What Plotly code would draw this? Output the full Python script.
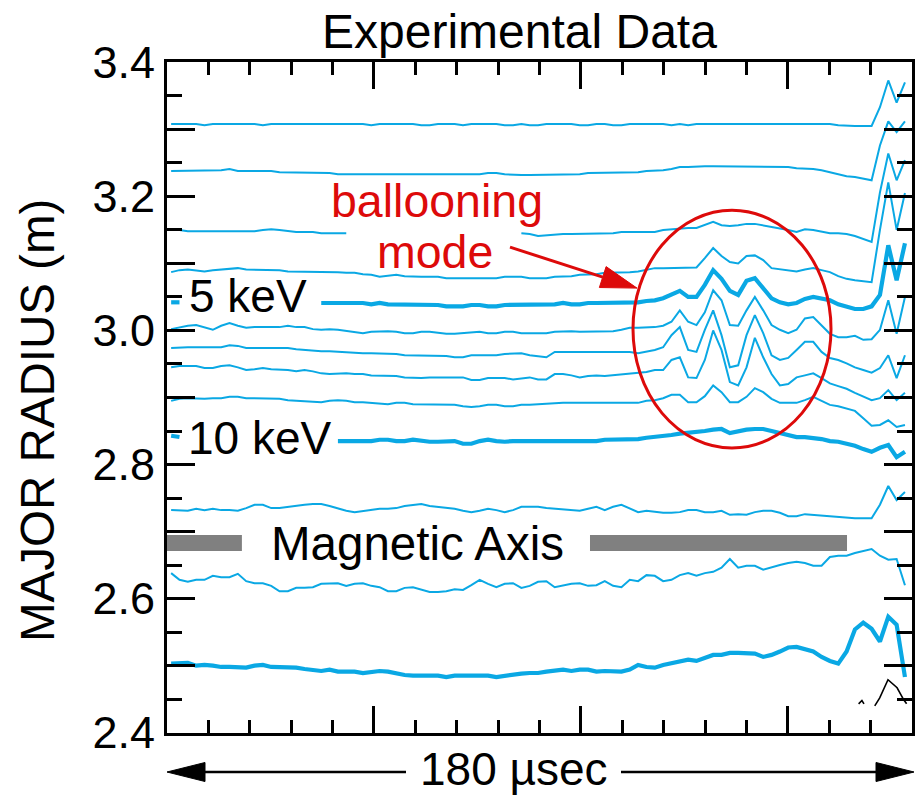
import numpy as np
import plotly.graph_objects as go

# ---------------- data ----------------
# time samples (axis units: 10 µs per unit, full axis = 180 µs)
T_START, T_END, N_T = 0.1, 17.83, 89
time = [float(v) for v in np.linspace(T_START, T_END, N_T)]

# major-radius traces of the 13 channels (m); None = gap in the trace
R1 = [3.308, 3.308, 3.308, 3.308, 3.306, 3.308, 3.308, 3.308, 3.308, 3.308,
      3.308, 3.306, 3.308, 3.308, 3.308, 3.308, 3.308, 3.308, 3.308, 3.308,
      3.308, 3.308, 3.308, 3.308, 3.306, 3.308, 3.308, 3.308, 3.308, 3.308,
      3.306, 3.306, 3.308, 3.308, 3.308, 3.306, 3.308, 3.308, 3.308, 3.308,
      3.306, 3.306, 3.308, 3.306, 3.306, 3.308, 3.308, 3.308, 3.308, 3.306,
      3.306, 3.308, 3.308, 3.306, 3.306, 3.308, 3.308, 3.308, 3.308, 3.308,
      3.306, 3.308, 3.306, 3.308, 3.308, 3.308, 3.308, 3.308, 3.308, 3.308,
      3.308, 3.308, 3.308, 3.308, 3.308, 3.308, 3.308, 3.308, 3.308, 3.308,
      3.306, 3.305, 3.305, 3.305, 3.305, 3.333, 3.373, 3.340, 3.370]
R2 = [3.238, 3.238, 3.238, 3.238, 3.238, 3.239, 3.239, 3.241, 3.238, 3.238,
      3.238, 3.238, 3.238, 3.236, 3.236, 3.236, 3.235, 3.235, 3.235, 3.235,
      3.233, 3.233, 3.233, 3.233, 3.233, 3.233, 3.232, 3.232, 3.232, 3.232,
      3.232, 3.232, 3.232, 3.232, 3.232, 3.232, 3.233, 3.233, 3.235, 3.235,
      3.233, 3.232, 3.232, 3.232, 3.232, 3.232, 3.233, 3.233, 3.233, 3.233,
      3.235, 3.235, 3.235, 3.235, 3.236, 3.236, 3.236, 3.238, 3.238, 3.239,
      3.241, 3.244, 3.244, 3.245, 3.245, 3.245, 3.245, 3.244, 3.244, 3.245,
      3.245, 3.245, 3.244, 3.244, 3.244, 3.242, 3.242, 3.241, 3.239, 3.236,
      3.233, 3.230, 3.229, 3.227, 3.224, 3.276, 3.312, 3.296, 3.312]
R3 = [3.150, 3.150, 3.148, 3.148, 3.147, 3.147, 3.148, 3.148, 3.148, 3.148,
      3.148, 3.150, 3.151, 3.150, 3.148, 3.147, 3.147, 3.147, 3.145, 3.145,
      3.145, 3.145,
      None, None, None, None, None, None, None, None, None, None,
      None, None, None, None, None, None, None, None, None, None,
      3.145, 3.144, 3.141, 3.142, 3.144, 3.144, 3.144, 3.144,
      3.144, 3.145, 3.145, 3.145, 3.147, 3.147, 3.148, 3.148, 3.147, 3.150,
      3.151, 3.153, 3.153, 3.153, 3.157, 3.162, 3.157, 3.156, 3.157, 3.159,
      3.159, 3.157, 3.154, 3.153, 3.150, 3.147, 3.151, 3.150, 3.147, 3.145,
      3.145, 3.144, 3.141, 3.136, 3.132, 3.206, 3.264, 3.224, 3.254]
R4 = [3.087, 3.090, 3.091, 3.090, 3.088, 3.090, 3.091, 3.093, 3.093, 3.091,
      3.091, 3.090, 3.090, 3.090, 3.088, 3.088, 3.088, 3.088, 3.087, 3.087,
      3.087, 3.086, 3.086, 3.084, 3.083, 3.080, 3.081, 3.083, 3.081, 3.080,
      3.080, 3.080, 3.080, 3.078, 3.078, 3.077, 3.077, 3.078, 3.078, 3.078,
      3.080, 3.080, 3.080, 3.078, 3.078, 3.078, 3.080, 3.080, 3.081, 3.083,
      3.083, 3.084, 3.086, 3.086, 3.087, 3.087, 3.088, 3.090, 3.093, 3.093,
      3.093, 3.094, 3.094, 3.094, 3.108, 3.123, 3.111, 3.102, 3.100, 3.111,
      3.112, 3.105, 3.093, 3.091, 3.090, 3.088, 3.091, 3.093, 3.090, 3.087,
      3.081, 3.077, 3.075, 3.074, 3.072, 3.150, 3.221, 3.150, 3.205]
R5 = [3.042, 3.042,
      None, None, None, None, None, None, None, None,
      None, None, None, None, None, None, None, None,
      3.041, 3.041, 3.041, 3.042, 3.042, 3.041, 3.039, 3.041, 3.039, 3.039,
      3.039, 3.038,
      3.038, 3.039, 3.038, 3.036, 3.036, 3.036, 3.038, 3.038, 3.036, 3.036,
      3.038, 3.038, 3.038, 3.038, 3.038, 3.039, 3.039, 3.041, 3.039, 3.039,
      3.041, 3.041, 3.041, 3.041, 3.042, 3.042, 3.042, 3.044, 3.045, 3.048,
      3.053, 3.059, 3.050, 3.050, 3.068, 3.090, 3.077, 3.059, 3.053, 3.074,
      3.078, 3.062, 3.048, 3.042, 3.039, 3.041, 3.047, 3.050, 3.048, 3.045,
      3.039, 3.035, 3.032, 3.032, 3.036, 3.053, 3.127, 3.075, 3.130]
R6 = [3.002, 3.005, 3.007, 3.008, 3.005, 3.001, 3.007, 3.011, 3.007, 3.004,
      3.005, 3.005, 3.004, 3.005, 3.007, 3.005, 3.005, 3.002, 3.001, 3.002,
      3.001, 2.999, 2.998, 2.996, 2.998, 2.999, 2.999, 2.998, 2.996, 2.996,
      2.998, 2.998, 2.996, 2.995, 2.995, 2.996, 2.996, 2.998, 2.996, 2.996,
      2.998, 2.998, 2.996, 2.996, 2.996, 2.996, 2.998, 2.999, 2.999, 2.998,
      2.998, 2.999, 2.999, 2.999, 3.001, 3.004, 3.004, 3.004, 3.005, 3.007,
      3.013, 3.030, 3.013, 3.008, 3.027, 3.060, 3.045, 3.008, 3.007, 3.030,
      3.050, 3.030, 3.008, 3.001, 2.996, 3.001, 3.018, 3.020, 3.007, 2.995,
      2.990, 2.990, 2.992, 2.986, 2.987, 3.001, 3.045, 2.995, 3.050]
R7 = [2.974, 2.975, 2.975, 2.975, 2.975, 2.974, 2.975, 2.978, 2.977, 2.974,
      2.974, 2.974, 2.974, 2.974, 2.974, 2.972, 2.971, 2.969, 2.969, 2.969,
      2.968, 2.968, 2.966, 2.966, 2.966, 2.966, 2.965, 2.965, 2.963, 2.963,
      2.963, 2.963, 2.963, 2.962, 2.960, 2.960, 2.963, 2.963, 2.963, 2.963,
      2.965, 2.965, 2.966, 2.963, 2.962, 2.960, 2.968, 2.968, 2.968, 2.969,
      2.969, 2.969, 2.968, 2.968, 2.968, 2.968, 2.966, 2.968, 2.971, 2.975,
      2.993, 3.005, 2.971, 2.968, 3.001, 3.030, 2.993, 2.945, 2.948, 2.993,
      3.023, 2.996, 2.963, 2.956, 2.959, 2.971, 2.983, 2.983, 2.968, 2.959,
      2.956, 2.951, 2.945, 2.941, 2.937, 2.944, 2.963, 2.929, 2.963]
R8 = [2.945, 2.947, 2.947, 2.947, 2.944, 2.944, 2.947, 2.948, 2.945, 2.941,
      2.942, 2.944, 2.942, 2.942, 2.941, 2.939, 2.941, 2.939, 2.936, 2.935,
      2.936, 2.936, 2.935, 2.935, 2.933, 2.933, 2.932, 2.932, 2.930, 2.929,
      2.929, 2.930, 2.930, 2.929, 2.930, 2.930, 2.926, 2.926, 2.929, 2.929,
      2.929, 2.927, 2.929, 2.930, 2.927, 2.927, 2.935, 2.935, 2.933, 2.930,
      2.932, 2.933, 2.932, 2.933, 2.935, 2.936, 2.936, 2.938, 2.941, 2.941,
      2.956, 2.960, 2.930, 2.929, 2.956, 3.000, 2.971, 2.923, 2.918, 2.945,
      2.989, 2.960, 2.935, 2.918, 2.920, 2.930, 2.933, 2.936, 2.929, 2.921,
      2.917, 2.913, 2.907, 2.901, 2.896, 2.899, 2.911, 2.896, 2.907]
R9 = [2.895, 2.898, 2.899, 2.898, 2.898, 2.899, 2.899, 2.901, 2.901, 2.899,
      2.899, 2.898, 2.898, 2.898, 2.896, 2.895, 2.895, 2.893, 2.893, 2.895,
      2.896, 2.895, 2.893, 2.893, 2.892, 2.890, 2.890, 2.892, 2.892, 2.890,
      2.890, 2.889, 2.889, 2.890, 2.889, 2.887, 2.886, 2.887, 2.889, 2.889,
      2.887, 2.887, 2.889, 2.889, 2.890, 2.890, 2.892, 2.892, 2.892, 2.892,
      2.893, 2.893, 2.893, 2.892, 2.892, 2.892, 2.892, 2.895, 2.896, 2.899,
      2.904, 2.904, 2.893, 2.893, 2.902, 2.918, 2.908, 2.893, 2.893, 2.901,
      2.914, 2.908, 2.898, 2.892, 2.892, 2.892, 2.896, 2.901, 2.895, 2.889,
      2.887, 2.884, 2.880, 2.869, 2.858, 2.859, 2.866, 2.856, 2.859]
R10 = [2.843, 2.841,
       None, None, None, None, None, None, None, None, None,
       None, None, None, None, None, None, None, None, None,
       2.835, 2.835, 2.834, 2.834, 2.835, 2.837, 2.837, 2.835, 2.835, 2.837,
       2.835, 2.834, 2.834, 2.835, 2.835, 2.831, 2.831, 2.835, 2.837, 2.835,
       2.834, 2.835, 2.835, 2.835, 2.835, 2.834, 2.834, 2.834, 2.834, 2.834,
       2.835, 2.835, 2.837, 2.837, 2.837, 2.838, 2.838, 2.840, 2.841, 2.843,
       2.844, 2.846, 2.847, 2.849, 2.850, 2.852, 2.853, 2.847, 2.850, 2.852,
       2.853, 2.853, 2.850, 2.847, 2.843, 2.841, 2.841, 2.840, 2.838, 2.835,
       2.834, 2.831, 2.828, 2.823, 2.819, 2.825, 2.829, 2.811, 2.819]
R11 = [2.732, 2.731, 2.731, 2.734, 2.732, 2.734, 2.732, 2.732, 2.731, 2.735,
       2.740, 2.740, 2.735, 2.735, 2.737, 2.738, 2.740, 2.741, 2.741, 2.738,
       2.734, 2.731, 2.729, 2.731, 2.732, 2.734, 2.734, 2.735, 2.738, 2.740,
       2.741, 2.738, 2.737, 2.735, 2.734, 2.731, 2.729, 2.731, 2.734, 2.732,
       2.729, 2.732, 2.737, 2.737, 2.737, 2.735, 2.734, 2.732, 2.731, 2.731,
       2.734, 2.737, 2.732, 2.737, 2.740, 2.735, 2.729, 2.731, 2.729, 2.728,
       2.728, 2.729, 2.732, 2.732, 2.729, 2.729, 2.731, 2.725, 2.726, 2.725,
       2.729, 2.731, 2.731, 2.728, 2.723, 2.723, 2.726, 2.725, 2.723, 2.722,
       2.722, 2.720, 2.720, 2.720, 2.720, 2.740, 2.768, 2.747, 2.759]
R12 = [2.638, 2.628, 2.625, 2.628, 2.628, 2.634, 2.632, 2.632, 2.637, 2.626,
       2.623, 2.623, 2.619, 2.611, 2.611, 2.616, 2.616, 2.617, 2.622, 2.622,
       2.623, 2.619, 2.622, 2.623, 2.619, 2.617, 2.611, 2.611, 2.616, 2.617,
       2.614, 2.610, 2.610, 2.611, 2.614, 2.613, 2.620, 2.628, 2.622, 2.617,
       2.622, 2.623, 2.616, 2.619, 2.625, 2.626, 2.617, 2.620, 2.622, 2.623,
       2.619, 2.620, 2.626, 2.619, 2.617, 2.628, 2.626, 2.635, 2.634, 2.626,
       2.628, 2.635, 2.638, 2.634, 2.638, 2.640, 2.646, 2.659, 2.646, 2.649,
       2.649, 2.643, 2.647, 2.650, 2.653, 2.655, 2.653, 2.649, 2.649, 2.662,
       2.664, 2.664, 2.668, 2.671, 2.674, 2.664, 2.658, 2.659, 2.620]
R13 = [2.503, 2.503, 2.504, 2.500, 2.501, 2.500, 2.498, 2.498, 2.498, 2.497,
       2.500, 2.501, 2.498, 2.498, 2.497, 2.497, 2.495, 2.494, 2.492, 2.494,
       2.491, 2.491, 2.491, 2.489, 2.491, 2.492, 2.491, 2.488, 2.486, 2.485,
       2.485, 2.485, 2.485, 2.483, 2.485, 2.485, 2.485, 2.485, 2.485, 2.483,
       2.485, 2.486, 2.488, 2.489, 2.489, 2.491, 2.492, 2.494, 2.492, 2.494,
       2.494, 2.491, 2.492, 2.491, 2.491, 2.494, 2.501, 2.498, 2.497, 2.501,
       2.504, 2.507, 2.509, 2.507, 2.512, 2.516, 2.516, 2.519, 2.519, 2.519,
       2.518, 2.513, 2.516, 2.521, 2.527, 2.528, 2.525, 2.521, 2.513, 2.507,
       2.503, 2.521, 2.554, 2.564, 2.555, 2.536, 2.573, 2.561, 2.483]

CHANNELS = [R1, R2, R3, R4, R5, R6, R7, R8, R9, R10, R11, R12, R13]
THICK_CHANNELS = [5, 10, 13]          # 1-based channel numbers drawn bold

# small black trace at the lower right
BLACK_T = [16.71, 16.79, 16.84, None, 17.10, 17.22, 17.42, 17.64, 17.80, 17.87]
BLACK_R = [2.443, 2.448, 2.443, None, 2.440, 2.452, 2.479, 2.467, 2.449, 2.443]

# magnetic axis marker (broken where the label sits)
MAG_AXIS_R = 2.683
MAG_AXIS_T = [0.0, 1.81, None, 10.22, 16.43]

Y_TICKS = [2.4, 2.5, 2.6, 2.7, 2.8, 2.9, 3.0, 3.1, 3.2, 3.3, 3.4]
Y_TICK_TEXT = ["2.4", "", "2.6", "", "2.8", "", "3.0", "", "3.2", "", "3.4"]

TITLE = "Experimental Data"
Y_TITLE = "MAJOR RADIUS (m)"
X_TITLE = "180 µsec"

# ---------------- style ----------------
FONT = "Liberation Sans, Arial, Helvetica, sans-serif"
BLUE = "#0aa8e4"
RED = "#dd0a0a"
GRAY = "#808080"
W, H = 920, 796
L, R, T, B = 167, 912, 62, 733
X_RANGE = [0, 18]
Y_RANGE = [2.4, 3.4]


def px_paper(px):
    return (px - L) / (R - L)


def py_paper(py):
    return (B - py) / (B - T)


def px_to_data(px, py):
    return (X_RANGE[0] + (px - L) * (X_RANGE[1] - X_RANGE[0]) / (R - L),
            Y_RANGE[0] + (B - py) * (Y_RANGE[1] - Y_RANGE[0]) / (B - T))


fig = go.Figure()

fig.add_trace(go.Scatter(
    x=MAG_AXIS_T, y=[MAG_AXIS_R if t is not None else None for t in MAG_AXIS_T],
    mode="lines", line=dict(color=GRAY, width=16), hoverinfo="skip",
    showlegend=False))

for k, vals in enumerate(CHANNELS, start=1):
    fig.add_trace(go.Scatter(
        x=time, y=vals, mode="lines",
        line=dict(color=BLUE, width=4.2 if k in THICK_CHANNELS else 2),
        connectgaps=False, hoverinfo="skip", showlegend=False))

fig.add_trace(go.Scatter(
    x=BLACK_T, y=BLACK_R, mode="lines", line=dict(color="black", width=1.6),
    connectgaps=False, hoverinfo="skip", showlegend=False))

shapes = []
# ellipse around the ballooning mode
ex0, ey0 = px_to_data(633, 448)
ex1, ey1 = px_to_data(831, 210)
shapes.append(dict(type="circle", xref="x", yref="y", x0=ex0, x1=ex1,
                   y0=ey0, y1=ey1, line=dict(color=RED, width=3)))

# red arrow pointing to the ellipse
tail = np.array([510.0, 247.0])
tip = np.array([637.0, 288.0])
d = (tip - tail) / np.linalg.norm(tip - tail)
nrm = np.array([-d[1], d[0]])
head_len, head_half = 36.0, 11.0
base = tip - d * head_len
c1 = base + nrm * head_half
c2 = base - nrm * head_half
bx, by = px_to_data(*base)
tx, ty = px_to_data(*tail)
shapes.append(dict(type="line", xref="x", yref="y", x0=tx, y0=ty, x1=bx, y1=by,
                   line=dict(color=RED, width=3)))
pts = [px_to_data(*tip), px_to_data(*c1), px_to_data(*c2)]
path = "M {} {} L {} {} L {} {} Z".format(pts[0][0], pts[0][1], pts[1][0],
                                          pts[1][1], pts[2][0], pts[2][1])
shapes.append(dict(type="path", xref="x", yref="y", path=path,
                   fillcolor=RED, line=dict(color=RED, width=1)))

# bottom double arrow (180 µs)
ay = py_paper(772)
shapes.append(dict(type="line", xref="paper", yref="paper",
                   x0=px_paper(200), x1=px_paper(406), y0=ay, y1=ay,
                   line=dict(color="black", width=2.5)))
shapes.append(dict(type="line", xref="paper", yref="paper",
                   x0=px_paper(621), x1=px_paper(880), y0=ay, y1=ay,
                   line=dict(color="black", width=2.5)))
hh = (py_paper(762) - py_paper(781)) / 2
lpath = "M {} {} L {} {} L {} {} Z".format(px_paper(167), ay, px_paper(205), ay + hh,
                                          px_paper(205), ay - hh)
rpath = "M {} {} L {} {} L {} {} Z".format(px_paper(914), ay, px_paper(876), ay + hh,
                                          px_paper(876), ay - hh)
for pth in (lpath, rpath):
    shapes.append(dict(type="path", xref="paper", yref="paper", path=pth,
                       fillcolor="black", line=dict(color="black", width=1)))

annotations = []


def add_text(text, px, py, size=46, color="black", angle=0, ref="data"):
    if ref == "data":
        x, y = px_to_data(px, py)
        xr, yr = "x", "y"
    else:
        x, y = px_paper(px), py_paper(py)
        xr, yr = "paper", "paper"
    annotations.append(dict(text=text, x=x, y=y, xref=xr, yref=yr,
                            showarrow=False, xanchor="center", yanchor="middle",
                            textangle=angle,
                            font=dict(family=FONT, size=size, color=color)))


add_text(TITLE, 519, 31, size=48, ref="paper")
add_text(Y_TITLE, 37, 421, size=47.5, angle=-90, ref="paper")
add_text(X_TITLE, 514, 769, size=46, ref="paper")
add_text("5 keV", 248, 296)
add_text("10 keV", 260, 438)
add_text("Magnetic Axis", 417, 544, size=47.5)
add_text("ballooning", 437, 201, size=46.5, color=RED)
add_text("mode", 435, 252, size=46.5, color=RED)

fig.update_layout(
    width=W, height=H, autosize=False,
    margin=dict(l=L, r=W - R, t=T, b=H - B, pad=0, autoexpand=False),
    paper_bgcolor="white", plot_bgcolor="white",
    showlegend=False, shapes=shapes, annotations=annotations,
    font=dict(family=FONT, color="black"),
)

fig.update_xaxes(
    range=X_RANGE, showgrid=False, zeroline=False, showline=True,
    linecolor="black", linewidth=3, mirror="allticks", ticks="inside",
    tickmode="linear", tick0=0, dtick=5, ticklen=27, tickwidth=2.5,
    tickcolor="black", showticklabels=False, automargin=False,
    minor=dict(ticks="inside", tick0=0, dtick=1, ticklen=13, tickwidth=2.5,
               tickcolor="black", showgrid=False))

fig.update_yaxes(
    range=[Y_RANGE[0] - 0.0005, Y_RANGE[1] + 0.0005], showgrid=False,
    zeroline=False, showline=True,
    linecolor="black", linewidth=3, mirror="allticks", ticks="inside",
    tickmode="array", tickvals=Y_TICKS, ticktext=Y_TICK_TEXT, ticklen=28,
    tickwidth=2.5, tickcolor="black", automargin=False,
    tickfont=dict(family=FONT, size=45, color="black"),
    minor=dict(ticks="inside", tick0=2.4, dtick=0.05, ticklen=15,
               tickwidth=2.5, tickcolor="black", showgrid=False))

fig.write_html("out.html")
